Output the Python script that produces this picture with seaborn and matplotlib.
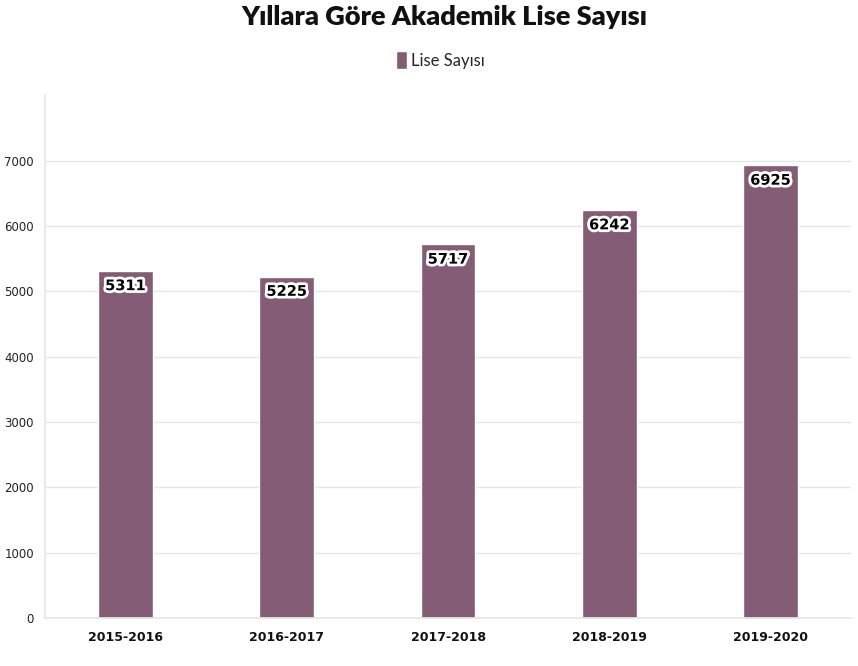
import matplotlib
matplotlib.use("Agg")
import matplotlib.pyplot as plt
import matplotlib.patheffects as pe
import seaborn as sns
import pandas as pd

years = ["2015-2016", "2016-2017", "2017-2018", "2018-2019", "2019-2020"]
counts = [5311, 5225, 5717, 6242, 6925]
series_name = "Lise Sayısı"
title = "Yıllara Göre Akademik Lise Sayısı"
yticks = [0, 1000, 2000, 3000, 4000, 5000, 6000, 7000]

sns.set_theme(style="white")
plt.rcParams['font.family'] = ['Lato', 'DejaVu Sans']

df = pd.DataFrame({"Yıl": years, "Sayı": counts})
color = "#855C75"

fig = plt.figure(figsize=(8.58, 6.66), dpi=100)
ax = fig.add_axes([0.0524, 0.072, 0.9396, 0.785])
sns.barplot(data=df, x="Yıl", y="Sayı", color=color, width=0.34, ax=ax,
            saturation=1, label=series_name)

ax.set_ylim(0, 8000)
ax.set_xlim(-0.5, 4.5)
ax.set_yticks(yticks)
ax.set_yticklabels([str(v) for v in yticks], fontsize=8.5, family="DejaVu Sans", color="#222222")
ax.set_xticks(range(len(years)))
ax.set_xticklabels(years, fontsize=9, fontweight="bold", family="DejaVu Sans", color="#111111")
ax.set_xlabel("")
ax.set_ylabel("")
ax.grid(axis="y", color="#e6e6e6", linewidth=1)
ax.set_axisbelow(True)
for s in ["top", "right"]:
    ax.spines[s].set_visible(False)
ax.spines["left"].set_color("#e6e6e6")
ax.spines["bottom"].set_color("#e6e6e6")
ax.tick_params(axis="y", length=4, color="#e6e6e6", pad=4)
ax.tick_params(axis="x", length=4, color="#e6e6e6", pad=5)

for i, v in enumerate(counts):
    ax.text(i, v - 110, str(v), ha="center", va="top", fontsize=10.5,
            fontweight="bold", family="DejaVu Sans", color="black",
            path_effects=[pe.withStroke(linewidth=4, foreground="white")])

fig.text(0.5175, 1 - 17 / 666, title, ha="center", va="center", fontsize=19.5,
         fontweight="heavy", color="#111111")
leg = ax.legend(loc="center", bbox_to_anchor=(0.491, 1.067), frameon=False,
                fontsize=12, handlelength=0.65, handleheight=1.3, handletextpad=0.25)

fig.savefig("out.png", dpi=100)
